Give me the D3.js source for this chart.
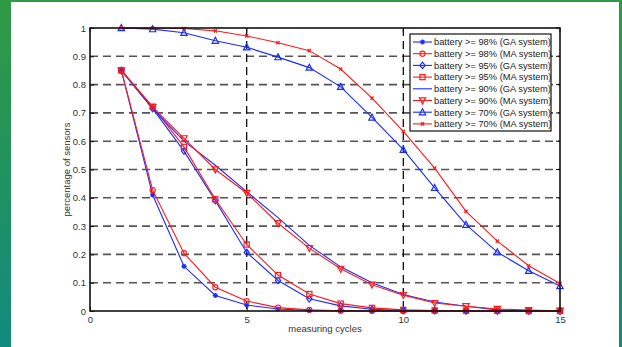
<!DOCTYPE html>
<html>
<head>
<meta charset="utf-8">
<script src="https://cdn.jsdelivr.net/npm/d3@7"></script>
<style>
  html, body { margin: 0; padding: 0; }
  body { width: 622px; height: 347px; overflow: hidden;
         background: linear-gradient(to bottom, #2f9a43, #128a7e); }
  #panel { position: absolute; left: 11px; top: 2px; width: 608px; height: 345px; background: #fff; }
  svg { position: absolute; left: 0; top: 0; }
  text { font-family: "Liberation Sans", Arial, sans-serif; }
</style>
</head>
<body>
<div id="panel"></div>
<svg id="chart" width="622" height="347"></svg>
<script>
// measuring cycle index for every series
const cycles = [1,2,3,4,5,6,7,8,9,10,11,12,13,14,15];

// share of sensors still above each battery level
const ga98 = [0.85,0.41,0.158,0.055,0.021,0.007,0.002,0.0005,0,0,0,0,0,0,0];
const ma98 = [0.85,0.427,0.204,0.084,0.035,0.012,0.004,0.001,0.0005,0,0,0,0,0,0];
const ga95 = [0.85,0.715,0.565,0.39,0.207,0.108,0.043,0.018,0.006,0.002,0.001,0,0,0,0];
const ma95 = [0.85,0.722,0.58,0.395,0.235,0.127,0.06,0.026,0.011,0.004,0.002,0.001,0.001,0,0];
const ga90 = [0.85,0.715,0.6,0.515,0.422,0.33,0.232,0.156,0.1,0.058,0.032,0.017,0.004,0.001,0];
const ma90 = [0.85,0.72,0.61,0.5,0.417,0.31,0.222,0.149,0.093,0.056,0.028,0.017,0.007,0.003,0.001];
const ga70 = [1,0.996,0.983,0.955,0.932,0.897,0.86,0.792,0.684,0.57,0.435,0.305,0.208,0.142,0.088];
const ma70 = [1,1,0.998,0.99,0.972,0.948,0.92,0.855,0.752,0.635,0.505,0.352,0.247,0.16,0.097];

const seriesNames = [
  "battery >= 98% (GA system)", "battery >= 98% (MA system)",
  "battery >= 95% (GA system)", "battery >= 95% (MA system)",
  "battery >= 90% (GA system)", "battery >= 90% (MA system)",
  "battery >= 70% (GA system)", "battery >= 70% (MA system)"
];
const seriesValues = [ga98, ma98, ga95, ma95, ga90, ma90, ga70, ma70];
const seriesColors = ["#1a2cff","#ff1a1a","#1a2cff","#ff1a1a","#1a2cff","#ff1a1a","#1a2cff","#ff1a1a"];
const seriesMarkers = ["star","circle","diamond","square","none","down","up","cross"];

const xTicks = [0,5,10,15];
const yTicks = [0,0.1,0.2,0.3,0.4,0.5,0.6,0.7,0.8,0.9,1];

const svg = d3.select("#chart");
const L = 90, R = 560, T = 28, B = 311;
const x = d3.scaleLinear().domain([0,15]).range([L,R]);
const y = d3.scaleLinear().domain([0,1]).range([B,T]);

// dashed grid
const grid = svg.append("g");
grid.selectAll("line.h").data(yTicks.slice(1,-1)).join("line")
  .attr("x1", L).attr("x2", R).attr("y1", d => y(d)).attr("y2", d => y(d))
  .attr("stroke", "#555").attr("stroke-width", 1.6).attr("stroke-dasharray", "8,5");
grid.selectAll("line.v").data(xTicks.slice(1,-1)).join("line")
  .attr("y1", T).attr("y2", B).attr("x1", d => x(d)).attr("x2", d => x(d))
  .attr("stroke", "#111").attr("stroke-width", 1.3).attr("stroke-dasharray", "8,5");

// axes with inward ticks
const xAxis = d3.axisBottom(x).tickValues(xTicks).tickSize(-4).tickPadding(5).tickFormat(d3.format("d"));
const yAxis = d3.axisLeft(y).tickValues(yTicks).tickSize(-4).tickPadding(4).tickFormat(d => d === 0 || d === 1 ? d : d3.format(".1f")(d));
const gx = svg.append("g").attr("transform", `translate(0,${B})`).call(xAxis);
const gy = svg.append("g").attr("transform", `translate(${L},0)`).call(yAxis);
[gx, gy].forEach(g => {
  g.select(".domain").remove();
  g.selectAll(".tick line").attr("stroke", "#111");
  g.selectAll(".tick text").attr("font-size", 9.5).attr("fill", "#333")
    .attr("font-family", "Liberation Sans, Arial, sans-serif");
});
// top/right ticks
svg.append("g").selectAll("line").data(yTicks).join("line")
  .attr("x1", R).attr("x2", R - 4).attr("y1", d => y(d)).attr("y2", d => y(d)).attr("stroke", "#111");
svg.append("g").selectAll("line").data(xTicks).join("line")
  .attr("y1", T).attr("y2", T + 4).attr("x1", d => x(d)).attr("x2", d => x(d)).attr("stroke", "#111");

// marker drawing
function marker(g, type, color) {
  const s = 2.6;
  switch (type) {
    case "circle":
      g.append("circle").attr("r", s).attr("fill", "none").attr("stroke", color).attr("stroke-width", 1.1); break;
    case "square":
      g.append("rect").attr("x", -s).attr("y", -s).attr("width", 2*s).attr("height", 2*s)
        .attr("fill", "none").attr("stroke", color).attr("stroke-width", 1.2); break;
    case "diamond":
      g.append("path").attr("d", `M0,${-s-0.6}L${s},0L0,${s+0.6}L${-s},0Z`)
        .attr("fill", "none").attr("stroke", color).attr("stroke-width", 1.2); break;
    case "up":
      g.append("path").attr("d", `M0,${-s-0.8}L${s+0.6},${s}L${-s-0.6},${s}Z`)
        .attr("fill", "none").attr("stroke", color).attr("stroke-width", 1.2); break;
    case "down":
      g.append("path").attr("d", `M0,${s+0.8}L${s+0.6},${-s}L${-s-0.6},${-s}Z`)
        .attr("fill", "none").attr("stroke", color).attr("stroke-width", 1.2); break;
    case "star":
      g.append("path").attr("d", `M0,${-s}L0,${s}M${-s},0L${s},0M-1.8,-1.8L1.8,1.8M-1.8,1.8L1.8,-1.8`)
        .attr("stroke", color).attr("stroke-width", 1.2); break;
    case "cross":
      g.append("path").attr("d", `M-1.6,-1.6L1.6,1.6M-1.6,1.6L1.6,-1.6`)
        .attr("stroke", color).attr("stroke-width", 1.3); break;
  }
}

const line = d3.line().x((d, i) => x(cycles[i])).y(d => y(d));
const plot = svg.append("g");
seriesValues.forEach((vals, k) => {
  plot.append("path").datum(vals).attr("d", line).attr("fill", "none")
    .attr("stroke", seriesColors[k]).attr("stroke-width", 1.1);
  vals.forEach((v, i) => {
    const g = plot.append("g").attr("transform", `translate(${x(cycles[i])},${y(v)})`);
    marker(g, seriesMarkers[k], seriesColors[k]);
  });
});

// frame
svg.append("rect").attr("x", L).attr("y", T).attr("width", R - L).attr("height", B - T)
  .attr("fill", "none").attr("stroke", "#111").attr("stroke-width", 1.6);

// axis titles
svg.append("text").attr("x", (L + R) / 2).attr("y", 332).attr("text-anchor", "middle")
  .attr("font-size", 9.5).attr("fill", "#333").text("measuring cycles");
svg.append("text").attr("transform", `translate(70,${(T + B) / 2}) rotate(-90)`)
  .attr("text-anchor", "middle").attr("font-size", 9.5).attr("fill", "#333").text("percentage of sensors");

// legend
const lg = svg.append("g");
lg.append("rect").attr("x", 410).attr("y", 34).attr("width", 141).attr("height", 97)
  .attr("fill", "#fff").attr("stroke", "#111").attr("stroke-width", 1.2);
seriesNames.forEach((name, k) => {
  const yy = 42 + k * 11.7;
  lg.append("line").attr("x1", 413).attr("x2", 432).attr("y1", yy).attr("y2", yy)
    .attr("stroke", seriesColors[k]).attr("stroke-width", 1.1);
  marker(lg.append("g").attr("transform", `translate(422.5,${yy})`), seriesMarkers[k], seriesColors[k]);
  lg.append("text").attr("x", 434).attr("y", yy + 3.3).attr("font-size", 9.3).attr("fill", "#222").text(name);
});
</script>
</body>
</html>
